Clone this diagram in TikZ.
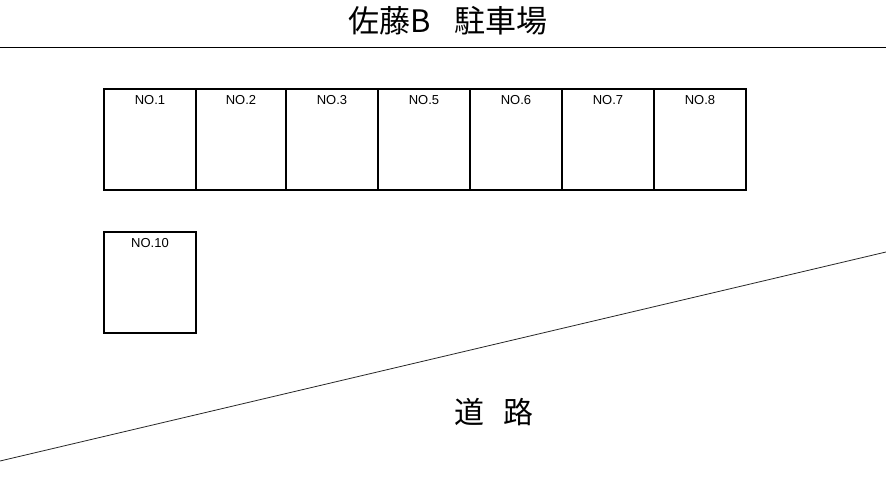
\documentclass[tikz,border=0pt]{standalone}
\usepackage{fontspec}
\setmainfont{Liberation Sans}
\newfontfamily\cjk{Noto Sans CJK JP}
\begin{document}
\begin{tikzpicture}[x=1pt,y=-1pt,
  bay/.style={draw,line width=2pt,minimum width=92pt,minimum height=101pt,inner sep=0pt,anchor=north west},
  baylabel/.style={font=\fontsize{13}{13}\selectfont,anchor=north,inner sep=0pt}]
\useasboundingbox (0,0) rectangle (886,490);
\node[font=\cjk\fontsize{31}{31}\selectfont,anchor=center] (title) at (448,21) {佐藤B\hspace{24pt}駐車場};
\coordinate (tl) at (0,47);
\coordinate (tr) at (886,47);
\draw[line width=1pt] (tl) -- (tr);
\foreach \i/\x/\w/\t in {1/103/92/NO.1,2/195/90/NO.2,3/285/92/NO.3,5/377/92/NO.5,6/469/92/NO.6,7/561/92/NO.7,8/653/92/NO.8}{
  \node[bay,minimum width=\w pt] (b\i) at (\x,88) {};
  \node[baylabel] (l\i) at ([yshift=-7pt]b\i.north) {\t};
}
\node[bay] (b10) at (103,231) {};
\node[baylabel] (l10) at ([yshift=-7pt]b10.north) {NO.10};
\coordinate (r1) at (0,461);
\coordinate (r2) at (886,252);
\draw[line width=0.8pt,black!85] (r1) -- (r2);
\node[font=\cjk\fontsize{30}{30}\selectfont] (road) at (494,412) {道\hspace{20pt}路};
\end{tikzpicture}
\end{document}
